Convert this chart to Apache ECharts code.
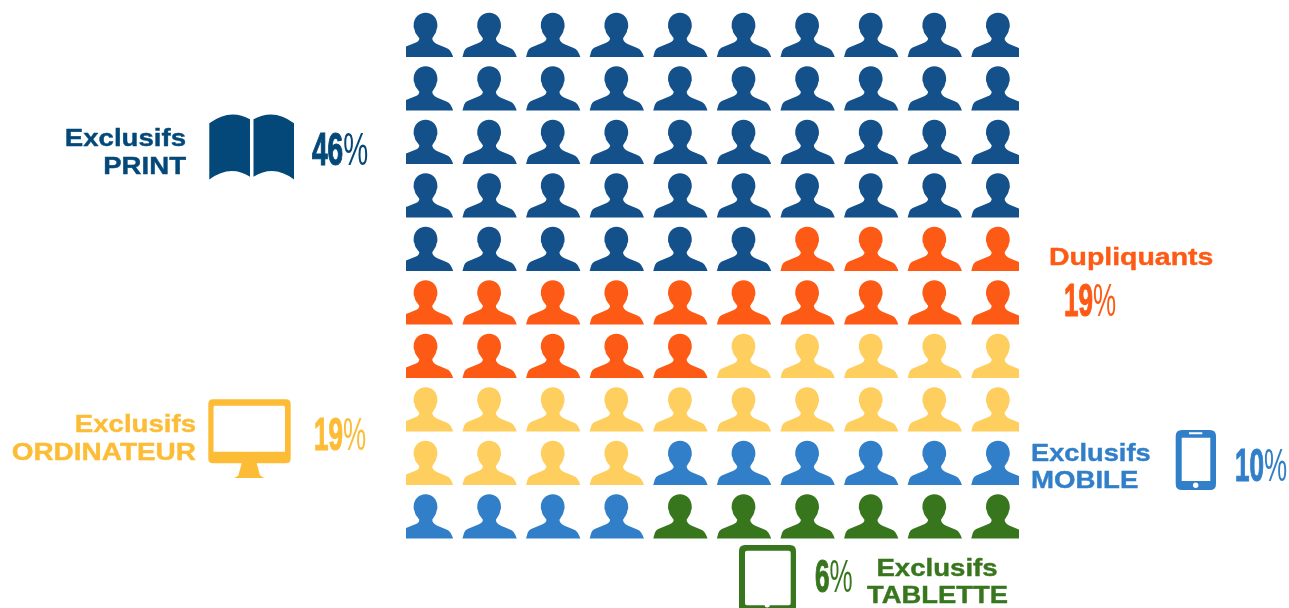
<!DOCTYPE html>
<html lang="fr">
<head>
<meta charset="utf-8">
<title>Audience par support</title>
<style>
  html, body { margin: 0; padding: 0; background: #fff; }
  #chart { width: 1289px; height: 608px; }
</style>
<script src="https://cdn.jsdelivr.net/npm/echarts@6/dist/echarts.min.js"></script>
</head>
<body>
<div id="chart"></div>
<script>
// Audience split, in percent; one figure stands for one person in the 10 x 10 grid.
const segments = ['Exclusifs PRINT', 'Dupliquants', 'Exclusifs ORDINATEUR', 'Exclusifs MOBILE', 'Exclusifs TABLETTE'];
const shares = [46, 19, 19, 10, 6];
const figureColors = ['#14508a', '#fd5a15', '#fecf5e', '#317fc9', '#38761d'];
const iconColors = ['#034878', '#fd5a15', '#fdbc35', '#317fc9', '#38761d'];
const gridColumns = 10;

// Bust silhouette, stretched into each figure's box.
const PERSON = 'M0 44.3L1.6 38.6Q2.6 36 5 34.8L16.5 30Q20.5 28.4 20.4 25.6L16.8 20.5Q16 19 15.6 16.5Q14.5 15.5 14.8 12.5C14.8 5 20 0 26.7 0C33.5 0 38.5 5 38.5 12.5Q38.7 15.5 37.7 16.5Q37.4 19 36.5 20.5L33.4 25.6Q33.4 29 38.5 31.6L47 35Q50 36 51.3 38Q53 40.5 54.3 44.3Z';
const PERSON_W = 54.3;
const PERSON_H = 44.3;

// Support icons in page coordinates; holes wind the opposite way to their outline.
const BOOK = 'M209.3 123.3Q230 108 250 119.3L250 176.7Q230 164 209.3 179.5Z' +
             'M253.5 119.3Q274 108 294 123.3L294 179.5Q274 164 253.5 176.7Z';
const MONITOR = 'M213 399.3L286 399.3Q290.7 399.3 290.7 404L290.7 458.5Q290.7 463.3 286 463.3L256.7 463.3L260 475.5L264.3 478L234.3 478L238.3 475.5L241.7 463.3L213 463.3Q208.3 463.3 208.3 458.5L208.3 404Q208.3 399.3 213 399.3Z' +
                'M215 405.7Q213.5 405.7 213.5 407.2L213.5 451.7L285 451.7L285 407.2Q285 405.7 283.5 405.7Z';
const PHONE = 'M1182 430L1210 430Q1216 430 1216 436L1216 484Q1216 490 1210 490L1182 490Q1175.7 490 1175.7 484L1175.7 436Q1175.7 430 1182 430Z' +
              'M1181.7 437.7L1181.7 481L1210.3 481L1210.3 437.7Z' +
              'M1189 432.3L1189 434.2L1202.3 434.2L1202.3 432.3Z' +
              'M1193 485.2A2.7 2.7 0 0 0 1198.4 485.2A2.7 2.7 0 0 0 1193 485.2Z';
const TABLET = 'M745 545L790 545Q796 545 796 551L796 612L739 612L739 551Q739 545 745 545Z' +
               'M747 550.7Q745 550.7 745 552.7L745 603.3Q745 605.3 747 605.3L764.5 605.3A2.8 2.8 0 0 0 770 605.3L788.7 605.3Q790.7 605.3 790.7 603.3L790.7 552.7Q790.7 550.7 788.7 550.7Z';
const icons = [
  { pathData: BOOK, color: '#034878' },
  { pathData: MONITOR, color: '#fdbc35' },
  { pathData: PHONE, color: '#317fc9' },
  { pathData: TABLET, color: '#38761d' }
];

// Expands the shares into one list of [column, row] cells per segment.
function cellsBySegment() {
  let index = 0;
  return shares.map(function (share) {
    const cells = [];
    for (let i = 0; i < share; i++, index++) {
      cells.push([index % gridColumns, Math.floor(index / gridColumns)]);
    }
    return cells;
  });
}

const figureSeries = cellsBySegment().map(function (cells, s) {
  return {
    name: segments[s],
    type: 'custom',
    clip: true,
    silent: true,
    animation: false,
    encode: { x: 0, y: 1 },
    data: cells,
    renderItem: function (params, api) {
      const c = api.coord([api.value(0), api.value(1)]);
      return {
        type: 'path',
        shape: {
          pathData: PERSON,
          x: c[0] - PERSON_W / 2,
          y: c[1] - PERSON_H / 2,
          width: PERSON_W,
          height: PERSON_H,
          layout: 'cover'
        },
        style: { fill: figureColors[s] }
      };
    }
  };
});

const iconSeries = {
  type: 'custom',
  coordinateSystem: 'none',
  silent: true,
  animation: false,
  data: icons.map(function (d, i) { return [i]; }),
  renderItem: function (params) {
    const d = icons[params.dataIndex];
    return { type: 'path', shape: { pathData: d.pathData }, style: { fill: d.color } };
  }
};

// Heavy wide caption; x is the anchor edge, y the vertical centre of the line.
function caption(text, x, y, align, color, stretch) {
  return {
    type: 'text', x: x, y: y, scaleX: stretch, silent: true,
    style: {
      text: text, fill: color, stroke: color, lineWidth: 0.4, align: align, verticalAlign: 'middle',
      font: 'bold 24px "Liberation Sans", Arial, sans-serif'
    }
  };
}

// Tall condensed percentage: bold digits with a lighter percent sign.
function percent(share, x, y, color, stretch) {
  const bodyFont = '"Liberation Sans", Arial, sans-serif';
  return {
    type: 'text', x: x, y: y, scaleX: stretch, silent: true,
    style: {
      text: '{d|' + share + '}{p|%}', align: 'left', verticalAlign: 'middle',
      rich: {
        d: { fill: color, stroke: color, lineWidth: 1.2, font: 'bold 46px ' + bodyFont },
        p: { fill: color, font: '46px ' + bodyFont }
      }
    }
  };
}

const decorations = [
  caption('Exclusifs', 186, 139, 'right', iconColors[0], 1.15),
  caption('PRINT', 186, 167, 'right', iconColors[0], 1.15),
  percent(shares[0], 312, 152.5, iconColors[0], 0.61),

  caption('Dupliquants', 1049, 258.5, 'left', iconColors[1], 1.185),
  percent(shares[1], 1064, 303, iconColors[1], 0.565),

  caption('Exclusifs', 196, 425, 'right', iconColors[2], 1.15),
  caption('ORDINATEUR', 196, 453, 'right', iconColors[2], 1.165),
  percent(shares[2], 314, 437, iconColors[2], 0.565),

  caption('Exclusifs', 1031, 454, 'left', iconColors[3], 1.135),
  caption('MOBILE', 1031, 481, 'left', iconColors[3], 1.15),
  percent(shares[3], 1235, 468.5, iconColors[3], 0.565),

  percent(shares[4], 815, 579, iconColors[4], 0.565),
  caption('Exclusifs', 937, 569, 'center', iconColors[4], 1.15),
  caption('TABLETTE', 937.5, 596, 'center', iconColors[4], 1.14)
];

const chart = echarts.init(document.getElementById('chart'), null, { renderer: 'canvas' });
chart.setOption({
  animation: false,
  backgroundColor: '#ffffff',
  grid: { left: 406.5, top: 10, width: 611.8, height: 535 },
  xAxis: { type: 'value', show: false, min: -0.307, max: 9.313 },
  yAxis: { type: 'value', show: false, inverse: true, min: -0.4636, max: 9.536 },
  series: figureSeries.concat([iconSeries]),
  graphic: { elements: decorations }
});
</script>
</body>
</html>
